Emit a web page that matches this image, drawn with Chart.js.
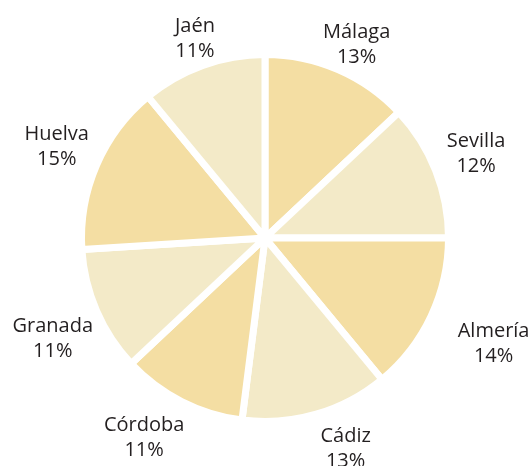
<!DOCTYPE html>
<html>
<head>
<meta charset="utf-8">
<script src="https://cdn.jsdelivr.net/npm/chart.js@4"></script>
<style>
  html, body { margin: 0; padding: 0; background: #fff; }
  #wrap { width: 531px; height: 466px; }
</style>
</head>
<body>
<div id="wrap"><canvas id="c"></canvas></div>
<script>
const provincias = ["Málaga", "Sevilla", "Almería", "Cádiz", "Córdoba", "Granada", "Huelva", "Jaén"];
const porcentajes = [13, 12, 14, 13, 11, 11, 15, 11];
const colores = ["#f4dea3", "#f3eac8", "#f4dea3", "#f3eac8", "#f4dea3", "#f3eac8", "#f4dea3", "#f3eac8"];
// colocación de etiquetas: distancia extra al borde (px) y giro respecto al ángulo medio (grados)
const separacion = [36, 48, 71, 44, 52, 54, 48, 33];
const giro = [1.7, -0.6, -0.8, -4.9, 4.4, -1.5, 0.6, 0.6];

const etiquetasFuera = {
  id: "etiquetasFuera",
  afterDatasetsDraw(chart) {
    const ctx = chart.ctx;
    const arcs = chart.getDatasetMeta(0).data;
    ctx.save();
    ctx.font = "20px 'Open Sans'";
    ctx.fillStyle = "#231f20";
    ctx.textAlign = "center";
    ctx.textBaseline = "middle";
    const lh = 25;
    arcs.forEach((arc, i) => {
      const mid = (arc.startAngle + arc.endAngle) / 2 + giro[i] * Math.PI / 180;
      const r = arc.outerRadius - 3.5; // radio visible (borde blanco de 7)
      const d = r + separacion[i];
      const cx = arc.x + Math.cos(mid) * d;
      const cy = arc.y + Math.sin(mid) * d + 2;
      ctx.fillText(provincias[i], cx, cy - lh / 2);
      ctx.fillText(porcentajes[i] + "%", cx, cy + lh / 2);
    });
    ctx.restore();
  }
};

new Chart(document.getElementById("c"), {
  type: "pie",
  data: {
    labels: provincias,
    datasets: [{
      data: porcentajes,
      backgroundColor: colores,
      borderColor: "#ffffff",
      borderWidth: 7
    }]
  },
  options: {
    responsive: true,
    maintainAspectRatio: false,
    animation: false,
    layout: { padding: { top: 51, bottom: 41, left: 78, right: 79 } },
    plugins: {
      legend: { display: false },
      tooltip: { enabled: false }
    }
  },
  plugins: [etiquetasFuera]
});
</script>
</body>
</html>
